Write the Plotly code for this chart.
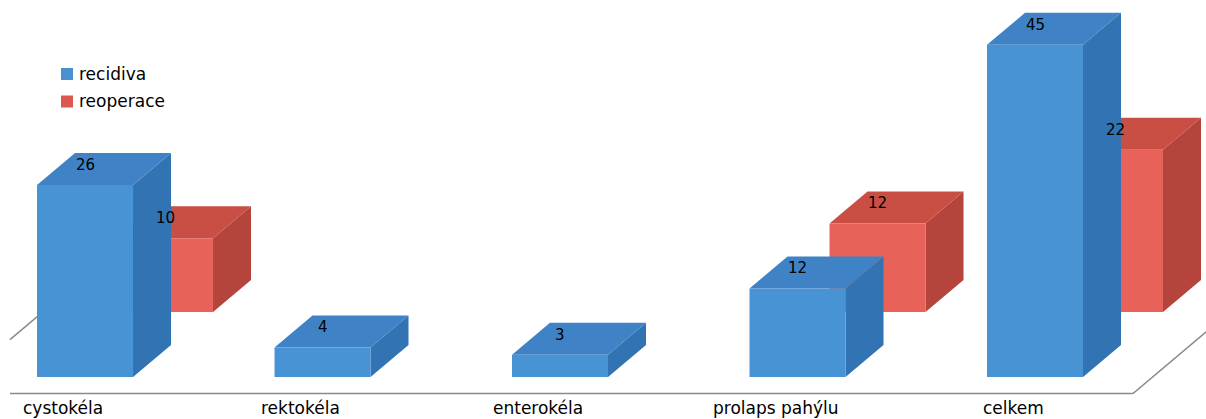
import plotly.graph_objects as go

# --- data ---------------------------------------------------------------
categories = ["cystokéla", "rektokéla", "enterokéla", "prolaps pahýlu", "celkem"]
series_names = ["recidiva", "reoperace"]
recidiva = [26, 4, 3, 12, 45]
reoperace = [10, None, None, 12, 22]

# --- canvas / axes ------------------------------------------------------
W, H = 1206, 419
X_RANGE = [-0.358, 4.72]
Y_RANGE = [-5.69, 51.08]
KX = W / (X_RANGE[1] - X_RANGE[0])   # pixels per category step
KY = H / (Y_RANGE[1] - Y_RANGE[0])   # pixels per value unit

FONT = "DejaVu Sans"

# box geometry (converted from pixels into axis units)
BAR_W = 96 / KX
DEPTH_X, DEPTH_Y = 38 / KX, 32 / KY          # receding edge of a box
ROW_SHIFT = {                                # rows: front (recidiva), back (reoperace)
    "recidiva": (0.0, 0.0),
    "reoperace": (80 / KX, 65 / KY),
}
FACE_COLORS = {
    "recidiva": {"front": "#4893d4", "top": "#3f83c6", "side": "#3273b4"},
    "reoperace": {"front": "#e8625a", "top": "#c94f45", "side": "#b4443c"},
}
LEGEND_COLORS = {"recidiva": "#4a8fd0", "reoperace": "#dc5750"}


def box_faces(values, name):
    """Polygons (front, top, side) of the 3D boxes of one series, None-separated."""
    sx, sy = ROW_SHIFT[name]
    faces = {"front": ([], []), "top": ([], []), "side": ([], [])}
    for i, v in enumerate(values):
        if v is None:
            continue
        x0 = i - BAR_W / 2 + sx
        x1 = x0 + BAR_W
        b = sy
        t = v + sy
        polys = {
            "front": [(x0, b), (x1, b), (x1, t), (x0, t), (x0, b)],
            "top": [(x0, t), (x1, t), (x1 + DEPTH_X, t + DEPTH_Y),
                    (x0 + DEPTH_X, t + DEPTH_Y), (x0, t)],
            "side": [(x1, b), (x1 + DEPTH_X, b + DEPTH_Y),
                     (x1 + DEPTH_X, t + DEPTH_Y), (x1, t), (x1, b)],
        }
        for k, pts in polys.items():
            faces[k][0].extend([p[0] for p in pts] + [None])
            faces[k][1].extend([p[1] for p in pts] + [None])
    return faces


fig = go.Figure()

# --- floor outline --------------------------------------------------------
FLOOR_Y = -16.5 / KY                 # front edge of the floor
FLOOR_X0 = X_RANGE[0] - 54 / KX      # front-left corner (outside the view)
FLOOR_X1 = X_RANGE[0] + 1133 / KX    # front-right corner
FLOOR_DEPTH = 4.1                    # floor depth in box-depth units
CLIP_X = X_RANGE[0] + 10 / KX        # floor lines start 10 px from the left

t_clip = (CLIP_X - FLOOR_X0) / DEPTH_X
left_x = [FLOOR_X0 + t_clip * DEPTH_X, FLOOR_X0 + FLOOR_DEPTH * DEPTH_X]
left_y = [FLOOR_Y + t_clip * DEPTH_Y, FLOOR_Y + FLOOR_DEPTH * DEPTH_Y]
front_x = [CLIP_X, FLOOR_X1, FLOOR_X1 + FLOOR_DEPTH * DEPTH_X]
front_y = [FLOOR_Y, FLOOR_Y, FLOOR_Y + FLOOR_DEPTH * DEPTH_Y]

for xs, ys in ((left_x, left_y), (front_x, front_y)):
    fig.add_trace(go.Scatter(
        x=xs, y=ys, mode="lines", line=dict(color="#8a8a8a", width=1.5),
        hoverinfo="skip", showlegend=False,
    ))

# --- boxes: back row first, then front row ------------------------------
for name, values in (("reoperace", reoperace), ("recidiva", recidiva)):
    faces = box_faces(values, name)
    for face in ("side", "top", "front"):
        xs, ys = faces[face]
        fig.add_trace(go.Scatter(
            x=xs, y=ys, mode="lines", fill="toself",
            fillcolor=FACE_COLORS[name][face],
            line=dict(width=0, color=FACE_COLORS[name][face]),
            hoverinfo="skip", showlegend=False, name=name,
        ))

annotations = []

# value labels sitting on the top faces
LABEL_LIFT = 20 / KY
for name, values in (("reoperace", reoperace), ("recidiva", recidiva)):
    sx, sy = ROW_SHIFT[name]
    for i, v in enumerate(values):
        if v is None:
            continue
        annotations.append(dict(
            x=i + sx, y=v + sy + LABEL_LIFT, text=str(v), showarrow=False,
            xanchor="center", yanchor="middle",
            font=dict(family=FONT, size=15, color="#000000"),
        ))

# category labels along the front of the floor
for i, c in enumerate(categories):
    annotations.append(dict(
        x=i - 22 / KX, y=-31 / KY, text=c, showarrow=False,
        xanchor="center", yanchor="middle", borderpad=0,
        font=dict(family=FONT, size=17, color="#000000"),
    ))

# legend (swatch + text) in the upper left
shapes = []
for k, name in enumerate(series_names):
    cy = 74 + k * 27.5
    shapes.append(dict(
        type="rect", xref="paper", yref="paper",
        x0=61 / W, x1=73 / W, y0=1 - (cy + 6) / H, y1=1 - (cy - 6) / H,
        fillcolor=LEGEND_COLORS[name], line=dict(width=0),
    ))
    annotations.append(dict(
        xref="paper", yref="paper", x=77 / W, y=1 - cy / H, text=name,
        showarrow=False, xanchor="left", yanchor="middle",
        font=dict(family=FONT, size=17, color="#000000"),
    ))

fig.update_layout(
    width=W, height=H,
    margin=dict(l=0, r=0, t=0, b=0),
    paper_bgcolor="white", plot_bgcolor="white",
    showlegend=False,
    xaxis=dict(range=X_RANGE, visible=False, fixedrange=True),
    yaxis=dict(range=Y_RANGE, visible=False, fixedrange=True),
    annotations=annotations,
    shapes=shapes,
)

fig.write_html("out.html")
